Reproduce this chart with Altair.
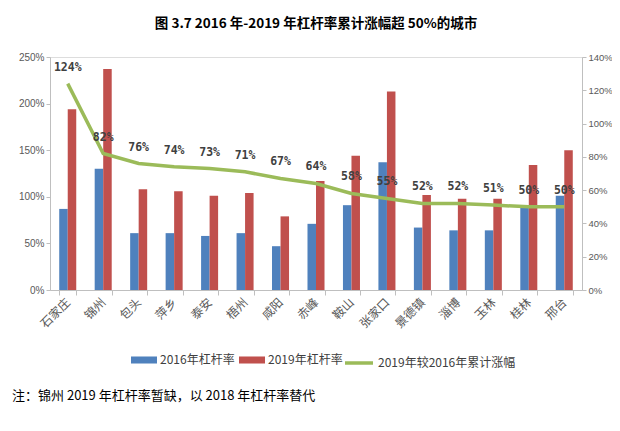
import altair as alt
import pandas as pd

cities = ["石家庄", "锦州", "包头", "萍乡", "泰安", "梧州", "咸阳", "赤峰", "鞍山", "张家口", "景德镇", "淄博", "玉林", "桂林", "邢台"]
lev2016 = [87, 130, 61, 61, 58, 61, 47, 71, 91, 137, 67, 64, 64, 88, 101]
lev2019 = [194, 237, 108, 106, 101, 104, 79, 117, 144, 213, 102, 98, 98, 134, 150]
growth = [124, 82, 76, 74, 73, 71, 67, 64, 58, 55, 52, 52, 51, 50, 50]
s16 = "2016年杠杆率"
s19 = "2019年杠杆率"
sline = "2019年较2016年累计涨幅"
title = "图 3.7 2016 年-2019 年杠杆率累计涨幅超 50%的城市"
note = "注：锦州 2019 年杠杆率暂缺，以 2018 年杠杆率替代"

bars_df = pd.DataFrame(
    [{"city": c, "series": s16, "value": v} for c, v in zip(cities, lev2016)]
    + [{"city": c, "series": s19, "value": v} for c, v in zip(cities, lev2019)]
)
line_df = pd.DataFrame({"city": cities, "growth": growth, "series": [sline] * len(cities)})
line_df["label"] = [f"{g}%" for g in growth]
note_df = pd.DataFrame({"t": [note]})

FONT = "Noto Sans CJK SC"
GRAY = "#BFBFBF"
LBL = "#595959"

x_enc = alt.X(
    "city:N", sort=cities, title=None,
    scale=alt.Scale(paddingInner=0.52, paddingOuter=0.26),
    axis=alt.Axis(labelAngle=-45, labelAlign="right", labelBaseline="middle",
                  labelFont=FONT, labelFontSize=12, labelColor=LBL, labelPadding=5,
                  domainColor=GRAY, tickColor=GRAY, tickSize=5, tickBand="extent"),
)

bars = alt.Chart(bars_df).mark_bar().encode(
    x=x_enc,
    xOffset=alt.XOffset("series:N", sort=[s16, s19], scale=alt.Scale(paddingInner=0, paddingOuter=0)),
    y=alt.Y("value:Q", title=None,
            scale=alt.Scale(domain=[0, 250], nice=False),
            axis=alt.Axis(values=[0, 50, 100, 150, 200, 250], labelExpr="datum.value + '%'",
                          grid=False, domainColor=GRAY, tickColor=GRAY, tickSize=4,
                          labelPadding=2, labelColor=LBL, labelFont="Liberation Sans",
                          labelFontSize=10)),
    color=alt.Color("series:N", sort=[s16, s19],
                    scale=alt.Scale(domain=[s16, s19], range=["#4F81BD", "#C0504D"]),
                    legend=alt.Legend(orient="none", legendX=81, legendY=290, direction="horizontal",
                                      title=None, symbolType="M-1,-0.27L1,-0.27L1,0.27L-1,0.27Z",
                                      symbolSize=676, symbolStrokeWidth=0, labelFont=FONT,
                                      labelFontSize=12, labelColor="#404040", columnPadding=4,
                                      labelOffset=3)),
)

y_right = alt.Y("growth:Q", title=None,
                scale=alt.Scale(domain=[0, 140], nice=False),
                axis=alt.Axis(orient="right", values=[0, 20, 40, 60, 80, 100, 120, 140],
                              labelExpr="datum.value + '%'", grid=False, domainColor=GRAY,
                              tickColor=GRAY, tickSize=4, labelPadding=2, labelColor=LBL,
                              labelFont="Liberation Sans", labelFontSize=9.5))

line = alt.Chart(line_df).mark_line(strokeWidth=3.5).encode(
    x=alt.X("city:N", sort=cities),
    y=y_right,
    color=alt.Color("series:N",
                    scale=alt.Scale(domain=[sline], range=["#9BBB59"]),
                    legend=alt.Legend(orient="none", legendX=293, legendY=290, title=None,
                                      symbolType="M-1,0L1,0", symbolSize=784,
                                      symbolStrokeWidth=3.5, labelFont=FONT, labelFontSize=12,
                                      labelColor="#404040", labelOffset=3)),
)

labels = alt.Chart(line_df).mark_text(dy=-16, fontWeight="bold", fontSize=11.5,
                                      font="DejaVu Sans Mono", color="#404040").encode(
    x=alt.X("city:N", sort=cities),
    y=y_right,
    text="label:N",
)

note_layer = alt.Chart(note_df).mark_text(align="left", baseline="middle", font=FONT,
                                          fontSize=13, color="#000000").encode(
    x=alt.value(-38), y=alt.value(339), text="t:N"
)

chart = alt.layer(
    bars,
    alt.layer(line, labels),
    note_layer,
).resolve_scale(y="independent", color="independent").properties(
    width=532, height=233,
    title=alt.TitleParams(title, font=FONT, fontSize=13.5, fontWeight="bold", color="#000000",
                          anchor="middle", offset=22),
    autosize=alt.AutoSizeParams(type="none"),
    padding={"left": 42, "top": 49, "right": 30, "bottom": 125},
).configure_view(stroke=None).configure(background="white")

chart.save("out.html", embed_options={"renderer": "svg", "actions": False})
